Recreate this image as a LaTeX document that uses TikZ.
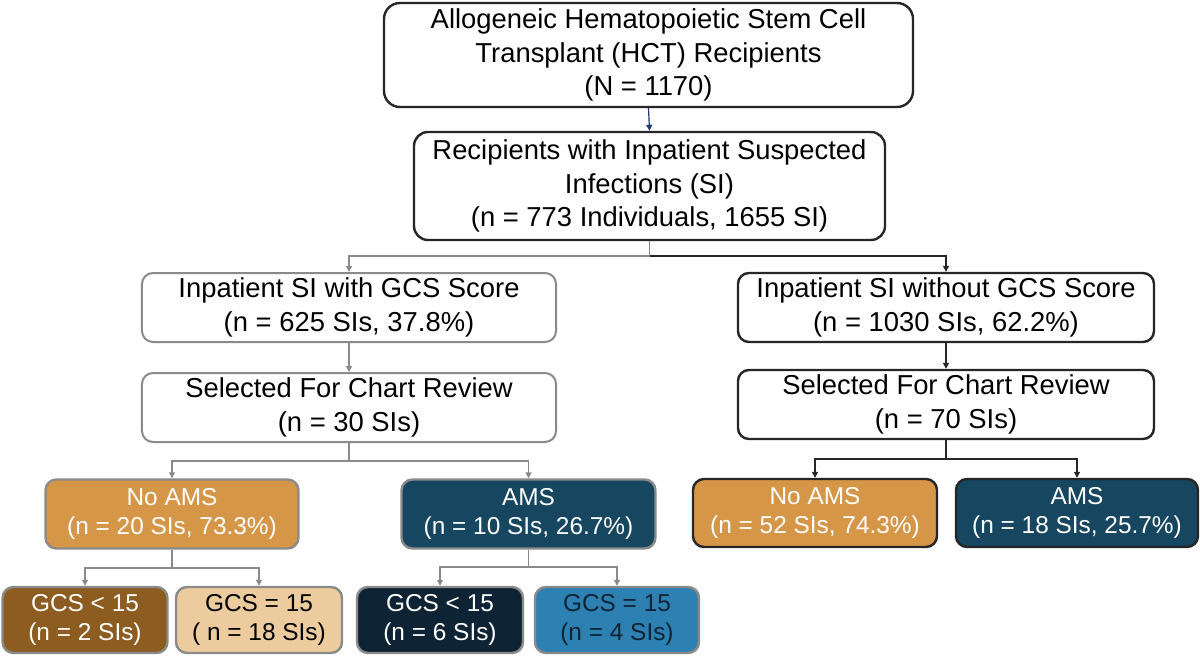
\documentclass[tikz,border=0pt]{standalone}
\usepackage{fontspec}
\setmainfont{Liberation Sans}
\usetikzlibrary{arrows.meta}
\definecolor{cOrange}{HTML}{D69648}
\definecolor{cTeal}{HTML}{164660}
\definecolor{cBrown}{HTML}{8C5C20}
\definecolor{cTan}{HTML}{ECCB9E}
\definecolor{cNavy}{HTML}{0E2434}
\definecolor{cBlue}{HTML}{2C80B2}
\definecolor{cGray}{HTML}{8A8A8A}
\definecolor{cDark}{HTML}{262626}
\definecolor{cArrowNavy}{HTML}{1F3A6E}
\begin{document}
\begin{tikzpicture}[x=1bp,y=-1bp,
  box/.style={draw, rounded corners=11bp, align=center, inner sep=0pt, line width=2.4bp},
  bigtext/.style={font=\fontsize{27.5}{33.5}\selectfont},
  smalltext/.style={font=\fontsize{24.5}{30}\selectfont},
  darkbox/.style={box, bigtext, draw=cDark, fill=white},
  graybox/.style={box, bigtext, draw=cGray, line width=2bp, fill=white},
  colbox/.style={box, smalltext, draw=cGray},
  colboxdark/.style={box, smalltext, draw=cDark},
  tip/.style={-{Triangle[width=6bp,length=6bp]}},
  gline/.style={draw=cGray, line width=1.3bp},
  dline/.style={draw=cDark, line width=1.3bp},
]
\useasboundingbox (0,0) rectangle (1200,659);

% top
\node[darkbox, rounded corners=16bp, minimum width=529bp, minimum height=104bp] (top) at (648.5,55)
  {Allogeneic Hematopoietic Stem Cell\\Transplant (HCT) Recipients\\(N = 1170)};
\node[darkbox, rounded corners=14bp, minimum width=471bp, minimum height=108bp] (si) at (649.5,186)
  {Recipients with Inpatient Suspected\\Infections (SI)\\(n = 773 Individuals, 1655 SI)};

% second row
\node[graybox, minimum width=414bp, minimum height=69bp] (a) at (349,307.5)
  {Inpatient SI with GCS Score\\(n = 625 SIs, 37.8\%)};
\node[darkbox, minimum width=416bp, minimum height=69bp] (b) at (946,307.5)
  {Inpatient SI without GCS Score\\(n = 1030 SIs, 62.2\%)};
\node[graybox, minimum width=414bp, minimum height=69bp] (a2) at (349,407.5)
  {Selected For Chart Review\\(n = 30 SIs)};
\node[darkbox, minimum width=416bp, minimum height=69bp] (b2) at (946,404.5)
  {Selected For Chart Review\\(n = 70 SIs)};

% colored row
\node[colbox, fill=cOrange, text=white, minimum width=253bp, minimum height=69bp] (noL) at (172,514)
  {No AMS\\(n = 20 SIs, 73.3\%)};
\node[colbox, fill=cTeal, text=white, minimum width=254bp, minimum height=69bp] (amsL) at (528.5,514)
  {AMS\\(n = 10 SIs, 26.7\%)};
\node[colboxdark, fill=cOrange, text=white, minimum width=244bp, minimum height=68bp] (noR) at (815,513)
  {No AMS\\(n = 52 SIs, 74.3\%)};
\node[colboxdark, fill=cTeal, text=white, minimum width=242bp, minimum height=68bp] (amsR) at (1077,513)
  {AMS\\(n = 18 SIs, 25.7\%)};

% GCS row
\node[colbox, fill=cBrown, text=white, minimum width=165bp, minimum height=66bp] (g1) at (85,620)
  {GCS < 15\\(n = 2 SIs)};
\node[colbox, fill=cTan, text=black, minimum width=166bp, minimum height=66bp] (g2) at (259,620)
  {GCS = 15\\( n = 18 SIs)};
\node[colbox, fill=cNavy, text=white, minimum width=166bp, minimum height=66bp] (g3) at (440,620)
  {GCS < 15\\(n = 6 SIs)};
\node[colbox, fill=cBlue, text=cNavy, minimum width=164bp, minimum height=66bp] (g4) at (617,620)
  {GCS = 15\\(n = 4 SIs)};

% connectors
\draw[tip, draw=cArrowNavy, line width=1.2bp] (top.south) -- (si.north);

\coordinate (siJ) at (si.south |- 0,256);
\draw[gline] (si.south) -- (siJ);
\draw[gline, tip] (siJ) -| (a.north);
\draw[dline, tip] (siJ) -| (b.north);

\draw[gline, tip] (a.south) -- (a2.north);
\draw[dline, tip] (b.south) -- (b2.north);

\coordinate (a2J) at (a2.south |- 0,461);
\draw[gline] (a2.south) -- (a2J);
\draw[gline, tip] (a2J) -| (noL.north);
\draw[gline, tip] (a2J) -| (amsL.north);

\coordinate (b2J) at (b2.south |- 0,459);
\draw[dline] (b2.south) -- (b2J);
\draw[dline, tip] (b2J) -| (noR.north);
\draw[dline, tip] (b2J) -| (amsR.north);

\coordinate (nJ) at (noL.south |- 0,568);
\draw[gline] (noL.south) -- (nJ);
\draw[gline, tip] (nJ) -| (g1.north);
\draw[gline, tip] (nJ) -| (g2.north);

\coordinate (mJ) at (amsL.south |- 0,567);
\draw[gline] (amsL.south) -- (mJ);
\draw[gline, tip] (mJ) -| (g3.north);
\draw[gline, tip] (mJ) -| (g4.north);
\end{tikzpicture}
\end{document}
